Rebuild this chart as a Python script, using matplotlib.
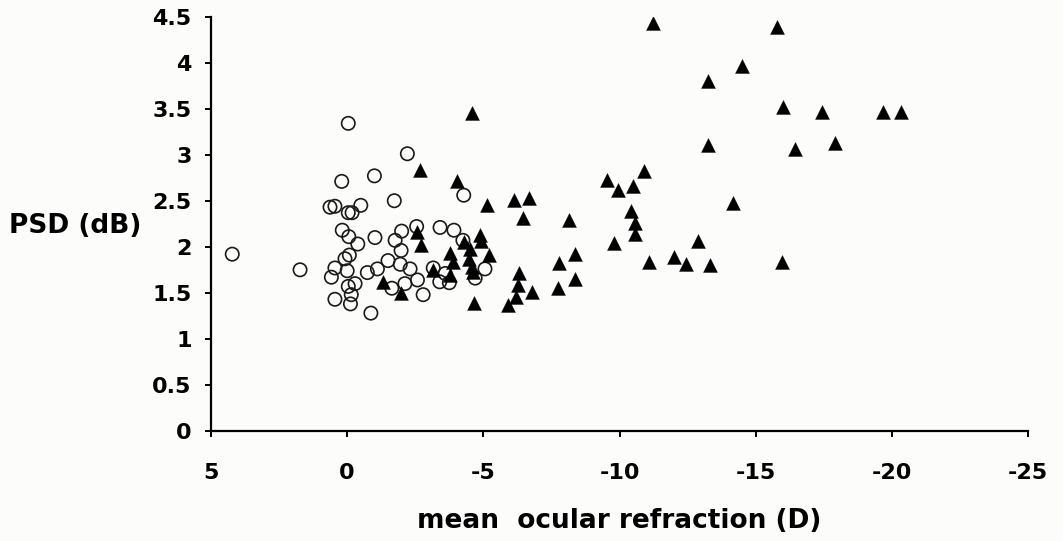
import matplotlib
matplotlib.use('Agg')
import matplotlib.pyplot as plt
import numpy as np

# open circles
emm_x = [4.22, 1.73, 0.20, 0.63, 0.45, -0.04, -0.18, -0.50, 0.18, -0.06,
         -0.39, 0.08, -0.08, 0.45, 0.58, 0.00, -0.29, -0.04, -0.15, 0.45,
         -0.12, -0.87, -0.04, -2.21, -1.00, -1.73, -2.55, -3.41, -3.92, -2.00,
         -1.02, -1.76, -1.98, -1.50, -1.95, -1.11, -0.74, -2.31, -2.58, -2.12,
         -1.64, -2.79, -3.40, -3.75, -4.28, -4.25, -5.06, -4.70, -3.16, -3.60]
emm_y = [1.92, 1.75, 2.71, 2.43, 2.44, 2.37, 2.37, 2.45, 2.18, 2.11,
         2.03, 1.87, 1.91, 1.77, 1.67, 1.74, 1.60, 1.57, 1.48, 1.43,
         1.38, 1.28, 3.34, 3.01, 2.77, 2.50, 2.22, 2.21, 2.18, 2.17,
         2.10, 2.07, 1.96, 1.85, 1.81, 1.76, 1.72, 1.76, 1.64, 1.60,
         1.55, 1.48, 1.62, 1.61, 2.56, 2.07, 1.76, 1.66, 1.77, 1.71]

# filled triangles
myo_x = [-4.57, -2.68, -4.05, -5.15, -6.13, -6.67, -6.47, -2.58, -2.70, -4.86,
         -4.90, -4.29, -4.51, -5.22, -3.76, -3.90, -4.48, -4.57, -4.63, -3.78,
         -3.16, -1.33, -1.98, -4.67, -6.32, -6.26, -6.78, -6.20, -5.90, -7.77,
         -7.73, -8.16, -8.35, -8.35, -9.53, -9.96, -10.51, -10.90, -10.41, -10.57,
         -10.57, -9.80, -11.10, -12.00, -12.43, -12.90, -13.33, -14.15, -15.96, -11.24,
         -15.77, -14.49, -13.24, -16.02, -17.43, -19.66, -20.34, -13.24, -16.43, -17.93]
myo_y = [3.45, 2.83, 2.71, 2.45, 2.51, 2.53, 2.31, 2.16, 2.02, 2.13,
         2.06, 2.05, 1.98, 1.91, 1.93, 1.84, 1.87, 1.78, 1.73, 1.69,
         1.75, 1.62, 1.50, 1.39, 1.71, 1.58, 1.51, 1.46, 1.37, 1.82,
         1.55, 2.29, 1.92, 1.65, 2.73, 2.62, 2.66, 2.82, 2.39, 2.26,
         2.14, 2.04, 1.84, 1.89, 1.81, 2.06, 1.80, 2.48, 1.83, 4.43,
         4.39, 3.96, 3.80, 3.52, 3.46, 3.46, 3.46, 3.10, 3.06, 3.13]

xticks = [5, 0, -5, -10, -15, -20, -25]
yticks = [0, 0.5, 1, 1.5, 2, 2.5, 3, 3.5, 4, 4.5]
ytick_labels = ['0', '0.5', '1', '1.5', '2', '2.5', '3', '3.5', '4', '4.5']

plt.rcParams['font.family'] = 'DejaVu Sans'
plt.rcParams['font.weight'] = 'bold'
plt.rcParams['axes.unicode_minus'] = False

fig = plt.figure(figsize=(10.63, 5.41), dpi=100, facecolor='#fcfcfa')
ax = fig.add_axes([0.1985, 0.2033, 0.7686, 0.7662])
ax.set_facecolor('#fcfcfa')

ax.scatter(np.array(emm_x), np.array(emm_y), s=92, marker='o',
           facecolors='none', edgecolors='#1a1a1a', linewidths=1.2, zorder=3)
ax.scatter(np.array(myo_x), np.array(myo_y), s=100, marker='^',
           color='black', linewidths=0.3, zorder=4)

ax.set_xlim(5, -25)
ax.set_ylim(0, 4.5)
ax.set_xticks(xticks)
ax.set_yticks(yticks)
ax.set_yticklabels(ytick_labels)

for s in ['top', 'right']:
    ax.spines[s].set_visible(False)
for s in ['left', 'bottom']:
    ax.spines[s].set_linewidth(1.6)
ax.tick_params(axis='y', direction='out', length=4, width=1.4, pad=10, labelsize=16)
ax.tick_params(axis='x', direction='out', length=4, width=1.4, pad=19, labelsize=16)
for lab in ax.get_xticklabels() + ax.get_yticklabels():
    lab.set_fontweight('bold')

ax.set_xlabel('mean  ocular refraction (D)', fontsize=19, fontweight='bold', labelpad=18)
ax.set_ylabel('PSD (dB)', fontsize=19, fontweight='bold', rotation=0,
              ha='center', va='center')
ax.yaxis.set_label_coords(-0.166, 0.494)

plt.savefig('out.png', dpi=100, facecolor=fig.get_facecolor())
